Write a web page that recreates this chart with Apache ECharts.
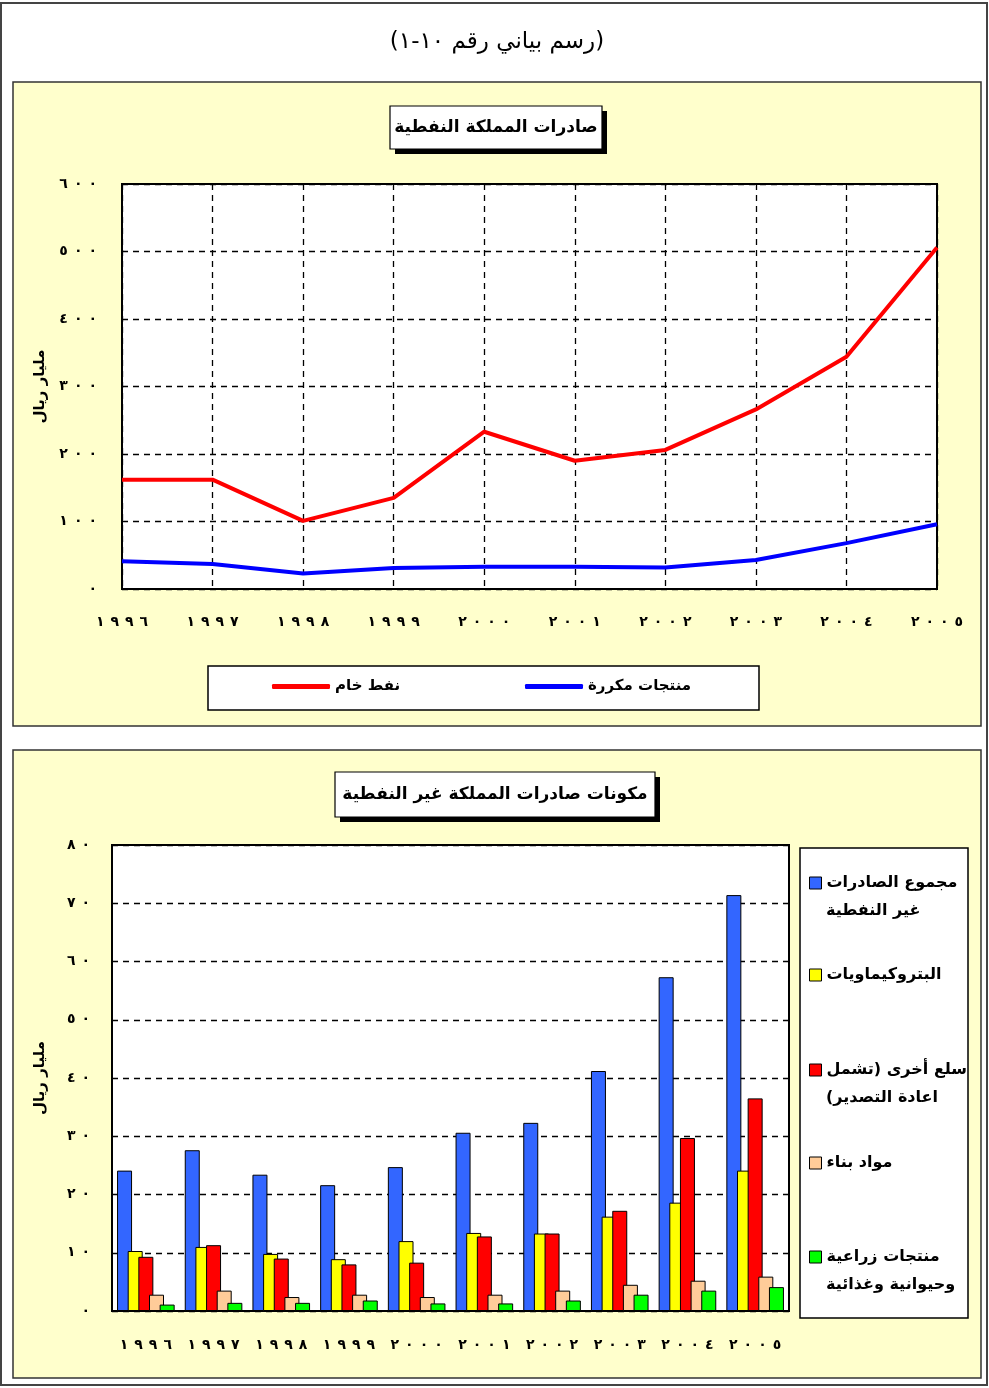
<!DOCTYPE html>
<html lang="ar">
<head>
<meta charset="utf-8">
<script src="https://cdn.jsdelivr.net/npm/echarts@6/dist/echarts.min.js"></script>
<style>
html,body{margin:0;padding:0;background:#fff;}
#c{width:989px;height:1388px;}
</style>
</head>
<body>
<div id="c" dir="rtl"></div>
<script>
// ---- data ----
const years = ['١٩٩٦','١٩٩٧','١٩٩٨','١٩٩٩','٢٠٠٠','٢٠٠١','٢٠٠٢','٢٠٠٣','٢٠٠٤','٢٠٠٥'];
const crudeOil = [162, 162, 101, 135, 233, 190, 206, 266, 344, 506];
const refinedProducts = [41, 37, 23, 31, 33, 33, 32, 43, 68, 96];
const topTickLabels = ['٠','١٠٠','٢٠٠','٣٠٠','٤٠٠','٥٠٠','٦٠٠'];

const nonOilTotal = [24.1, 27.6, 23.4, 21.6, 24.7, 30.6, 32.3, 41.2, 57.3, 71.4];
const petrochemicals = [10.3, 11.0, 9.8, 8.9, 12.0, 13.4, 13.3, 16.2, 18.6, 24.1];
const otherGoods = [9.3, 11.3, 9.0, 8.0, 8.3, 12.8, 13.3, 17.2, 29.7, 36.5];
const buildingMaterials = [2.8, 3.5, 2.4, 2.8, 2.4, 2.8, 3.5, 4.5, 5.2, 5.9];
const agriFood = [1.1, 1.4, 1.4, 1.8, 1.3, 1.3, 1.8, 2.8, 3.5, 4.1];
const bottomTickLabels = ['٠','١٠','٢٠','٣٠','٤٠','٥٠','٦٠','٧٠','٨٠'];

const lineNames = ['نفط خام', 'منتجات مكررة'];
const barNames = ['مجموع الصادرات غير النفطية', 'البتروكيماويات', 'سلع أخرى (تشمل اعادة التصدير)', 'مواد بناء', 'منتجات زراعية وحيوانية وغذائية'];
const barLegendLine1 = ['مجموع الصادرات', 'البتروكيماويات', 'سلع أخرى (تشمل', 'مواد بناء', 'منتجات زراعية'];
const barLegendLine2 = ['غير النفطية', '', 'اعادة التصدير)', '', 'وحيوانية وغذائية'];

const mainTitle = '(رسم بياني رقم ١٠-١)';
const topTitle = 'صادرات المملكة النفطية';
const bottomTitle = 'مكونات صادرات المملكة غير النفطية';
const yName = 'مليار ريال';

// ---- styles ----
const FONT = '"DejaVu Sans", sans-serif';
const barColors = ['#3366FF', '#FFFF00', '#FF0000', '#FFCC99', '#00FF00'];
const dashed = {type: [6, 5], color: '#000', width: 1.3};
const digitRich = {
  d: {color: '#000', fontFamily: FONT, fontWeight: 'bold', fontSize: 14, padding: [0, 6, 0, 0]},
  e: {color: '#000', fontFamily: FONT, fontWeight: 'bold', fontSize: 14}
};
function spaced(s) {
  const a = s.split('');
  return a.map((ch, i) => (i < a.length - 1 ? '{d|' + ch + '}' : '{e|' + ch + '}')).join('');
}
const labelStyle = {color: '#000', fontFamily: FONT, fontWeight: 'bold', fontSize: 14, rich: digitRich};
const LEG_FONT = 'bold 16px ' + FONT;

function titleBox(x, y, w, h, text, size) {
  return [
    {type: 'rect', z: 1, shape: {x: x + 5, y: y + 5, width: w, height: h}, style: {fill: '#000'}},
    {type: 'rect', z: 2, shape: {x: x, y: y, width: w, height: h}, style: {fill: '#fff', stroke: '#000', lineWidth: 1.2}},
    {type: 'text', z: 3, style: {text: text, x: x + w / 2, y: y + h / 2, align: 'center', verticalAlign: 'middle',
      font: 'bold ' + size + 'px ' + FONT, fill: '#000'}}
  ];
}

const legendCenters = [883, 975, 1070, 1163, 1257];
const lineGap = 28;

const graphics = [
  {type: 'rect', z: -10, shape: {x: 1, y: 3, width: 986, height: 1382}, style: {fill: '#fff', stroke: '#444', lineWidth: 2}},
  {type: 'text', z: 1, style: {text: mainTitle, x: 497, y: 42, align: 'center', verticalAlign: 'middle', font: '23px ' + FONT, fill: '#000'}},
  {type: 'rect', z: -9, shape: {x: 13, y: 82, width: 968, height: 644}, style: {fill: '#FFFFCC', stroke: '#333', lineWidth: 1.5}},
  {type: 'rect', z: -9, shape: {x: 13, y: 750, width: 968, height: 628}, style: {fill: '#FFFFCC', stroke: '#333', lineWidth: 1.5}},
  {type: 'rect', z: 1, shape: {x: 208, y: 666, width: 551, height: 44}, style: {fill: '#fff', stroke: '#000', lineWidth: 1.5}},
  {type: 'rect', z: 1, shape: {x: 800, y: 848, width: 168, height: 470}, style: {fill: '#fff', stroke: '#000', lineWidth: 1.5}}
].concat(
  titleBox(390, 106, 212, 43, topTitle, 17),
  titleBox(335, 772, 320, 45, bottomTitle, 17),
  barLegendLine2.filter(t => t).map(t => {
    const i = barLegendLine2.indexOf(t);
    return {type: 'text', z: 5, style: {text: t, x: 826, y: legendCenters[i] + lineGap, align: 'left', verticalAlign: 'middle',
      font: LEG_FONT, fill: '#000'}};
  })
);

const legends = [
  {data: [lineNames[0]], left: 272, top: 679, padding: 0, icon: 'roundRect', itemWidth: 58, itemHeight: 5,
    textStyle: {color: '#000', fontFamily: FONT, fontWeight: 'bold', fontSize: 15}},
  {data: [lineNames[1]], left: 525, top: 679, padding: 0, icon: 'roundRect', itemWidth: 58, itemHeight: 5,
    textStyle: {color: '#000', fontFamily: FONT, fontWeight: 'bold', fontSize: 15}}
].concat(barNames.map((n, i) => ({
  data: [n], left: 809, top: legendCenters[i] - 10, padding: 0, icon: 'rect', itemWidth: 12, itemHeight: 12,
  itemStyle: {borderColor: '#000', borderWidth: 1},
  formatter: () => barLegendLine1[i],
  textStyle: {color: '#000', fontFamily: FONT, fontWeight: 'bold', fontSize: 16, lineHeight: 20}
})));

const barValues = [nonOilTotal, petrochemicals, otherGoods, buildingMaterials, agriFood];

const option = {
  animation: false,
  backgroundColor: '#fff',
  graphic: graphics,
  legend: legends,
  grid: [
    {left: 122, top: 184, width: 815, height: 405, show: true, backgroundColor: '#fff', borderColor: '#000', borderWidth: 2},
    {left: 112, top: 845, width: 677, height: 466, show: true, backgroundColor: '#fff', borderColor: '#000', borderWidth: 2}
  ],
  xAxis: [
    {type: 'category', gridIndex: 0, data: years, boundaryGap: false,
      axisLine: {show: false}, axisTick: {show: false},
      axisLabel: Object.assign({margin: 26, interval: 0, formatter: v => spaced(v)}, labelStyle),
      splitLine: {show: true, interval: 0, lineStyle: dashed}},
    {type: 'category', gridIndex: 1, data: years,
      axisLine: {show: false}, axisTick: {show: false},
      axisLabel: Object.assign({margin: 27, interval: 0, formatter: v => spaced(v)}, labelStyle),
      splitLine: {show: false}}
  ],
  yAxis: [
    {type: 'value', gridIndex: 0, min: 0, max: 600, interval: 100,
      axisLine: {show: false}, axisTick: {show: false},
      axisLabel: Object.assign({margin: 25, formatter: v => spaced(topTickLabels[Math.round(v / 100)])}, labelStyle),
      splitLine: {show: true, lineStyle: dashed},
      name: yName, nameLocation: 'middle', nameGap: 74, nameRotate: 90,
      nameTextStyle: {color: '#000', fontFamily: FONT, fontWeight: 'bold', fontSize: 15}},
    {type: 'value', gridIndex: 1, min: 0, max: 80, interval: 10,
      axisLine: {show: false}, axisTick: {show: false},
      axisLabel: Object.assign({margin: 22, formatter: v => spaced(bottomTickLabels[Math.round(v / 10)])}, labelStyle),
      splitLine: {show: true, lineStyle: dashed},
      name: yName, nameLocation: 'middle', nameGap: 64, nameRotate: 90,
      nameTextStyle: {color: '#000', fontFamily: FONT, fontWeight: 'bold', fontSize: 15}}
  ],
  series: [
    {name: lineNames[0], type: 'line', xAxisIndex: 0, yAxisIndex: 0, data: crudeOil, symbol: 'none',
      color: '#FF0000', lineStyle: {width: 4, color: '#FF0000'}},
    {name: lineNames[1], type: 'line', xAxisIndex: 0, yAxisIndex: 0, data: refinedProducts, symbol: 'none',
      color: '#0000FF', lineStyle: {width: 4, color: '#0000FF'}}
  ].concat(barNames.map((n, i) => ({
    name: n, type: 'bar', xAxisIndex: 1, yAxisIndex: 1, data: barValues[i],
    barWidth: 15, barGap: '-29%', color: barColors[i],
    itemStyle: {color: barColors[i], borderColor: '#000', borderWidth: 1}
  })))
};

const chart = echarts.init(document.getElementById('c'), null, {renderer: 'canvas'});
chart.setOption(option);
</script>
</body>
</html>
